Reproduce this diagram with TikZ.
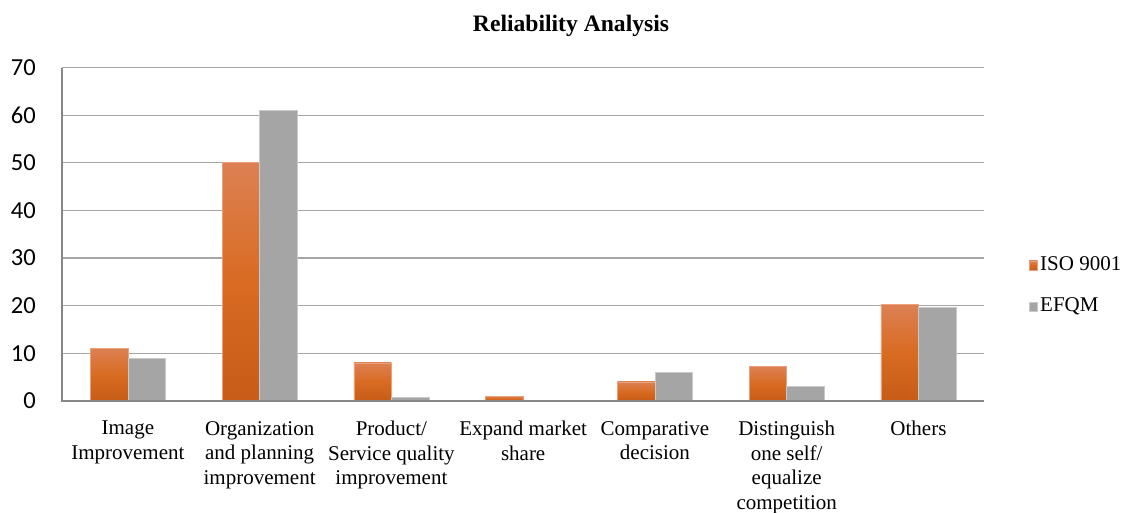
\documentclass[tikz,border=0pt]{standalone}
\usepackage{fontspec}
\setmainfont{Liberation Serif}
\newfontfamily\calib{Carlito}
\definecolor{gridc}{HTML}{A6A6A6}
\definecolor{axisc}{HTML}{878787}
\definecolor{isotop}{HTML}{DC8053}
\definecolor{isomid}{HTML}{D96B22}
\definecolor{isobot}{HTML}{C65C17}
\definecolor{isoedge}{HTML}{EBA27C}
\definecolor{efqm}{HTML}{A5A5A5}
\definecolor{efqmedge}{HTML}{C9C9C9}
\tikzset{
  gridline/.style={draw=gridc, line width=1.3pt},
  axisline/.style={draw=axisc, line width=2pt},
  isobar/.style={top color=isotop, bottom color=isobot, middle color=isomid, draw=isoedge, line width=0.7pt},
  efqmbar/.style={fill=efqm, draw=efqmedge, line width=0.7pt},
  ticklabel/.style={font=\calib\fontsize{24.5}{26}\selectfont, anchor=east, inner sep=0pt},
  catlabel/.style={font=\fontsize{21}{24.6}\selectfont, align=center, anchor=north, inner sep=0pt},
  legtext/.style={font=\fontsize{21}{24}\selectfont, anchor=base west, inner sep=0pt},
  titletext/.style={font=\bfseries\fontsize{23.6}{26}\selectfont, anchor=base, inner sep=0pt},
}
\begin{document}
\begin{tikzpicture}[x=1pt, y=1pt]
\useasboundingbox (0,0) rectangle (1127,513);
% zero line at y=112, 4.764 per unit
\foreach \k in {1,...,7} {
  \draw[gridline] (62,{112+\k*47.64}) -- (984.3,{112+\k*47.64});
}
\foreach \k in {0,...,7} {
  \pgfmathtruncatemacro\lab{\k*10}
  \node[ticklabel] (t\k) at (36,{112+\k*47.64}) {\lab};
}
\foreach \i/\a/\b in {1/11/9, 2/50/61, 3/8/0.8, 4/1/0, 5/4/6, 6/7.2/3, 7/20.2/19.6} {
  \pgfmathsetmacro\c{62+131.76*(\i-0.5)}
  \path[isobar] ({\c-37.5},112) rectangle (\c,{112+\a*4.764});
  \ifdim\b pt>0pt
    \path[efqmbar] (\c,112) rectangle ({\c+37.5},{112+\b*4.764});
  \fi
}
\draw[axisline] (62,{112+7*47.64}) -- (62,112) -- (984.3,112);
% category labels
\node[catlabel] (c1) at ({62+131.76*0.5},92) {Image\\Improvement};
\node[catlabel] (c2) at ({62+131.76*1.5},92) {Organization\\and planning\\improvement};
\node[catlabel] (c3) at ({62+131.76*2.5},92) {Product/\\Service quality\\improvement};
\node[catlabel] (c4) at ({62+131.76*3.5},92) {Expand market\\share};
\node[catlabel] (c5) at ({62+131.76*4.5},92) {Comparative\\decision};
\node[catlabel] (c6) at ({62+131.76*5.5},92) {Distinguish\\one self/\\equalize\\competition};
\node[catlabel] (c7) at ({62+131.76*6.5},92) {Others};
% legend
\path[isobar] (1029,243) rectangle (1037.5,252);
\node[legtext] (l1) at (1040,242) {ISO 9001};
\path[efqmbar] (1029,202) rectangle (1037.5,211);
\node[legtext] (l2) at (1040,201) {EFQM};
% title
\node[titletext] (title) at (571,481) {Reliability Analysis};
\end{tikzpicture}
\end{document}
